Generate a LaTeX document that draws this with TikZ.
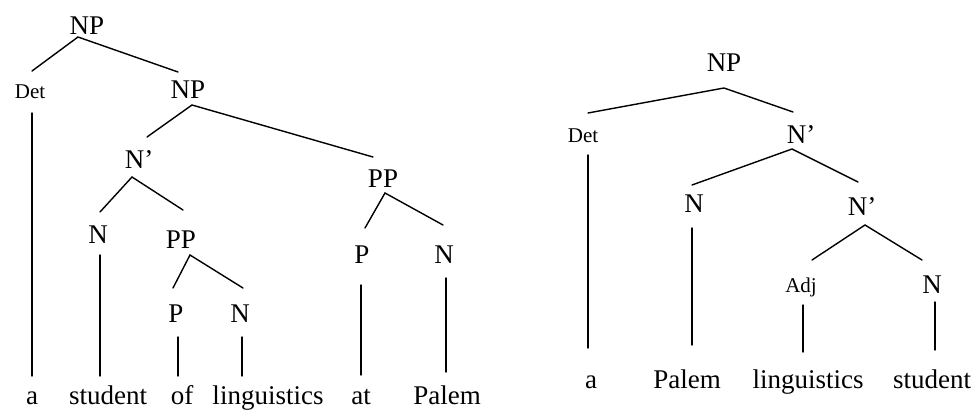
\documentclass[tikz,border=0pt]{standalone}
\usepackage{fontspec}
\setmainfont{Liberation Serif}
\begin{document}
\begin{tikzpicture}[x=1pt,y=-1pt,
  lab/.style={anchor=base,inner sep=0pt,font=\fontsize{27}{32}\selectfont},
  sm/.style={anchor=base,inner sep=0pt,font=\fontsize{21}{24}\selectfont},
  br/.style={line width=1.4pt,line cap=round}]
\useasboundingbox (0,0) rectangle (977,412);
% ---------- left tree ----------
\node[lab] (lNP) at (87,35) {NP};
\node[sm]  (lDet) at (30,98) {Det};
\node[lab] (lNP2) at (188,98) {NP};
\node[lab] (lNb) at (139,168) {N'};
\node[lab] (lPP) at (383,187) {PP};
\node[lab] (lN1) at (98,243) {N};
\node[lab] (lPP2) at (181,248) {PP};
\node[lab] (lP1) at (176,322) {P};
\node[lab] (lN2) at (240,322) {N};
\node[lab] (lP2) at (362,263) {P};
\node[lab] (lN3) at (444,263) {N};
\node[lab] (lwa) at (32,404) {a};
\node[lab] (lwstudent) at (108,404) {student};
\node[lab] (lwof) at (182,404) {of};
\node[lab] (lwling) at (268,404) {linguistics};
\node[lab] (lwat) at (361,404) {at};
\node[lab] (lwpalem) at (447,404) {Palem};
% branch points
\coordinate (c1) at (78,37);   \coordinate (c1a) at (32,71);   \coordinate (c1b) at (178,72);
\coordinate (c2) at (192,105); \coordinate (c2a) at (147,137); \coordinate (c2b) at (373,157);
\coordinate (c3) at (132,177); \coordinate (c3a) at (100,212); \coordinate (c3b) at (183,210);
\coordinate (c4) at (385,193); \coordinate (c4a) at (365,228); \coordinate (c4b) at (443,225);
\coordinate (c5) at (190,255); \coordinate (c5a) at (173,288); \coordinate (c5b) at (243,288);
\draw[br] (c1a) -- (c1) -- (c1b);
\draw[br] (c2a) -- (c2) -- (c2b);
\draw[br] (c3a) -- (c3) -- (c3b);
\draw[br] (c4a) -- (c4) -- (c4b);
\draw[br] (c5a) -- (c5) -- (c5b);
% vertical stems
\coordinate (v1t) at (32,113);  \coordinate (v1b) at (32,376);
\coordinate (v2t) at (100,255); \coordinate (v2b) at (100,376);
\coordinate (v3t) at (178,337); \coordinate (v3b) at (178,376);
\coordinate (v4t) at (242,337); \coordinate (v4b) at (242,376);
\coordinate (v5t) at (361,285); \coordinate (v5b) at (361,375);
\coordinate (v6t) at (446,278); \coordinate (v6b) at (446,372);
\draw[br] (v1t) -- (v1b);
\draw[br] (v2t) -- (v2b);
\draw[br] (v3t) -- (v3b);
\draw[br] (v4t) -- (v4b);
\draw[br] (v5t) -- (v5b);
\draw[br] (v6t) -- (v6b);
% ---------- right tree ----------
\node[lab] (rNP) at (724,72) {NP};
\node[sm]  (rDet) at (583,142) {Det};
\node[lab] (rNb) at (801,143) {N'};
\node[lab] (rN) at (694,212) {N};
\node[lab] (rNb2) at (862,215) {N'};
\node[sm]  (rAdj) at (801,292) {Adj};
\node[lab] (rN2) at (932,293) {N};
\node[lab] (rwa) at (591,388) {a};
\node[lab] (rwpalem) at (687,388) {Palem};
\node[lab] (rwling) at (808,388) {linguistics};
\node[lab] (rwstudent) at (932,388) {student};
\coordinate (d1) at (724,88);  \coordinate (d1a) at (588,113); \coordinate (d1b) at (793,112);
\coordinate (d2) at (792,149); \coordinate (d2a) at (692,185); \coordinate (d2b) at (858,182);
\coordinate (d3) at (865,225); \coordinate (d3a) at (812,260); \coordinate (d3b) at (922,260);
\draw[br] (d1a) -- (d1) -- (d1b);
\draw[br] (d2a) -- (d2) -- (d2b);
\draw[br] (d3a) -- (d3) -- (d3b);
\coordinate (w1t) at (588,155); \coordinate (w1b) at (588,348);
\coordinate (w2t) at (692,228); \coordinate (w2b) at (692,345);
\coordinate (w3t) at (803,305); \coordinate (w3b) at (803,352);
\coordinate (w4t) at (935,302); \coordinate (w4b) at (935,350);
\draw[br] (w1t) -- (w1b);
\draw[br] (w2t) -- (w2b);
\draw[br] (w3t) -- (w3b);
\draw[br] (w4t) -- (w4b);
\end{tikzpicture}
\end{document}
